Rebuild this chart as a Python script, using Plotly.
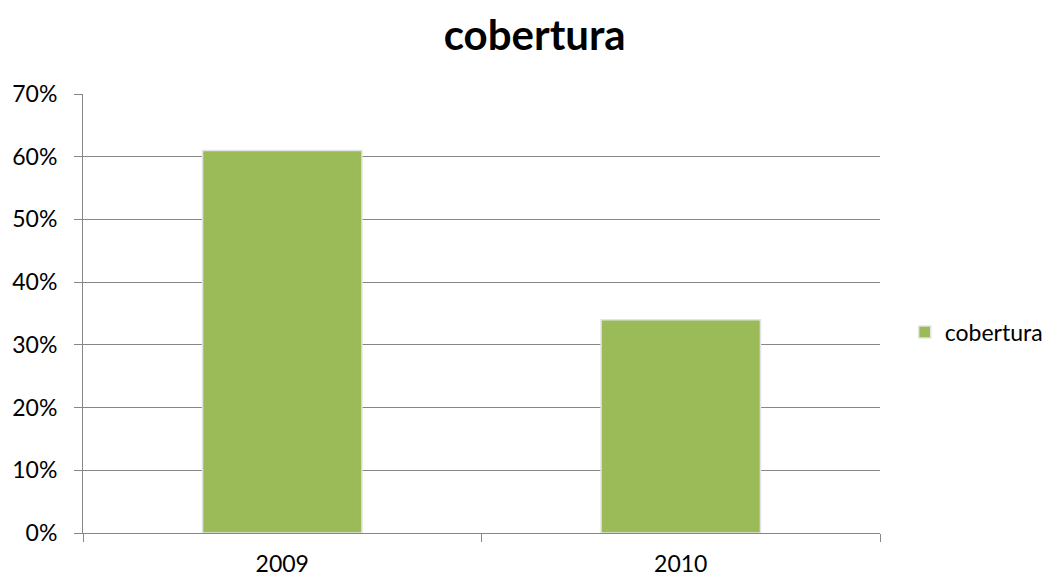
import plotly.graph_objects as go

categories = ["2009", "2010"]
values = [0.61, 0.34]
series_name = "cobertura"
title_text = "cobertura"

FONT = "Lato, Liberation Sans, sans-serif"

fig = go.Figure()
fig.add_trace(go.Bar(
    x=categories, y=values, name=series_name,
    marker=dict(color="#9BBB59", line=dict(color="#E3E3E3", width=1.5)),
    width=0.4, showlegend=True,
))

fig.update_layout(
    width=1043, height=570,
    margin=dict(l=75, r=171, t=86, b=45, autoexpand=False),
    paper_bgcolor="white", plot_bgcolor="white",
    font=dict(family=FONT, color="#000000", size=23),
    title=dict(text="<b>" + title_text + "</b>", x=0.505, xanchor="center",
               xref="container", y=0.952, yanchor="middle",
               font=dict(size=42, family=FONT)),
    legend=dict(x=1.031, xanchor="left", y=0.458, yanchor="middle",
                font=dict(size=23), itemwidth=30),
    bargap=0.6,
)
fig.update_yaxes(
    range=[0, 0.70001], tickvals=[0, 0.1, 0.2, 0.3, 0.4, 0.5, 0.6, 0.7],
    tickformat=".0%",
    showgrid=True, gridcolor="#868686", gridwidth=1,
    showline=True, linecolor="#868686", linewidth=1,
    ticks="outside", ticklen=8, tickcolor="#868686",
    zeroline=False, tickfont=dict(size=23), ticklabelstandoff=12,
    automargin=False,
)
fig.update_xaxes(
    type="category", tickson="boundaries",
    showline=True, linecolor="#868686", linewidth=1,
    ticks="outside", ticklen=8, tickcolor="#868686",
    showgrid=False, tickfont=dict(size=23), ticklabelstandoff=10,
    automargin=False,
)
fig.write_html("out.html")
